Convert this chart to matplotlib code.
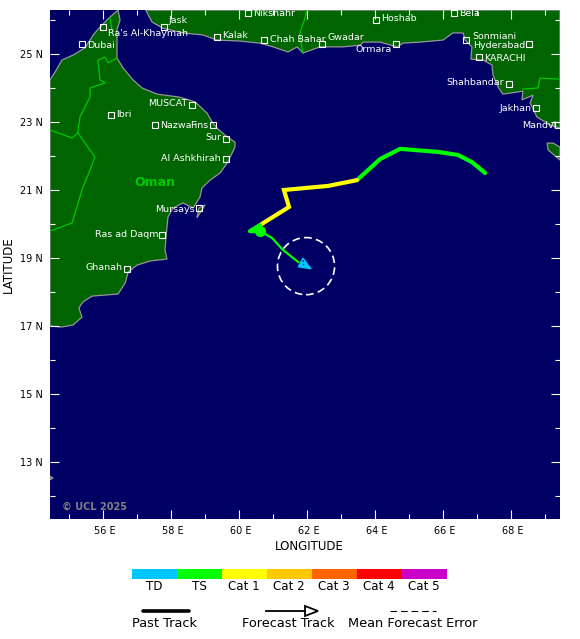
import matplotlib
matplotlib.use("Agg")
import matplotlib.pyplot as plt
from matplotlib.patches import Polygon, Circle
from matplotlib.ticker import MultipleLocator
from matplotlib.transforms import ScaledTranslation

# ---- data ----
arabia_lon = [54.44,54.59,54.79,55.12,55.47,55.71,55.91,56.21,56.44,56.50,56.41,56.41,56.59,56.88,57.15,57.59,58.26,58.71,59.06,59.21,59.35,59.65,59.88,59.88,59.65,59.44,59.15,58.91,58.85,58.65,58.35,58.06,57.91,57.88,57.82,57.88,57.38,57.00,56.74,56.65,56.44,55.68,55.41,55.29,55.38,55.12,54.79,54.44]
arabia_lat = [24.24,24.47,24.82,24.97,25.18,25.56,25.79,26.09,26.29,26.00,25.71,24.88,24.59,24.24,24.00,23.82,23.73,23.59,23.26,23.00,22.82,22.56,22.41,22.26,21.79,21.50,21.29,21.06,20.79,20.47,20.62,20.47,20.21,19.91,19.24,18.97,18.91,18.79,18.59,18.26,17.94,17.88,17.71,17.53,17.26,17.03,16.97,17.00]
north_lon = [57.26,57.44,57.76,58.35,58.94,59.35,60.03,60.62,61.00,61.44,61.71,61.88,62.38,63.06,63.56,63.65,64.15,64.65,64.82,65.32,66.00,66.29,66.59,66.65,66.85,66.82,67.18,67.44,67.47,67.62,67.76,68.18,68.35,68.32,68.65,68.56,68.76,69.15,69.44,69.44]
north_lat = [26.29,25.94,25.76,25.62,25.56,25.41,25.38,25.32,25.21,25.06,25.21,25.03,25.21,25.21,25.26,25.35,25.35,25.21,25.32,25.35,25.41,25.62,25.62,25.41,25.21,24.85,24.82,24.68,24.38,24.03,23.82,23.88,23.91,23.65,23.79,23.56,23.15,22.91,22.82,26.29]
kathiawar_lon = [69.44,69.09,69.06,69.24,69.44]
kathiawar_lat = [21.88,22.18,22.38,22.38,22.26]
masirah_lon = [58.76,59.00,58.82]
masirah_lat = [20.18,20.56,20.47]
speck_lon = [54.44,54.53,54.44]
speck_lat = [12.58,12.53,12.48]

border_a_lon = [54.44,55.09,55.26,55.47,55.76,55.62,55.41,55.09,54.44]
border_a_lat = [22.76,22.53,22.68,22.38,21.97,21.59,21.09,20.03,19.79]
border_b_lon = [55.26,55.32,55.62,55.62,56.06,55.91,55.85,56.06,56.15,56.41]
border_b_lat = [22.68,23.15,23.74,24.00,24.15,24.24,24.82,24.91,24.74,24.88]
border_c_lon = [56.21,56.26]
border_c_lat = [26.06,25.71]
border_d_lon = [62.00,61.94,61.79,61.82,61.88]
border_d_lat = [26.29,26.06,25.62,25.35,25.03]
border_e_lon = [68.35,68.79,68.85,69.44]
border_e_lat = [23.97,24.00,24.29,24.26]

city_names = ["Jask","Ra's Al-Khaymah","Dubai","Nikshahr","Kalak","Chah Bahar","Gwadar","Ormara","Hoshab","Bela","Sonmiani","Hyderabad","KARACHI","Shahbandar","Jakhan","Mandvi","MUSCAT","Ibri","Nazwa","Fins","Sur","Al Ashkhirah","Mursays","Ras ad Daqm","Ghanah"]
city_lon = [57.79,56.00,55.38,60.26,59.35,60.74,62.44,64.62,64.03,66.32,66.68,68.53,67.06,67.94,68.74,69.38,58.62,56.24,57.53,59.24,59.62,59.62,58.82,57.74,56.71]
city_lat = [25.79,25.79,25.29,26.21,25.50,25.41,25.29,25.29,26.00,26.21,25.41,25.29,24.91,24.12,23.41,22.91,23.50,23.21,22.91,22.91,22.50,21.91,20.47,19.68,18.68]
city_dx = [5,5,5,5,5,6,6,-4,5,5,6,-4,5,-5,-5,-2,-5,5,5,-5,-5,-5,-4,-4,-5]
city_dy = [7,-6,-1,-1,1,1,7,-5,1,-1,4,-1,-1,1,0,0,1,0,0,0,1,1,-1,0,1]

ts1_lon = [67.24,66.85,66.44,65.85,64.74,64.15,63.47]
ts1_lat = [21.50,21.82,22.03,22.12,22.21,21.91,21.29]
cat1_lon = [63.47,62.62,61.32,61.47,60.62]
cat1_lat = [21.29,21.12,21.00,20.50,19.97]
ts2_lon = [60.62,60.32,60.62]
ts2_lat = [19.97,19.79,19.79]
fc_lon = [60.62,60.97,61.29,61.74]
fc_lat = [19.79,19.59,19.24,18.88]
head_lon = [61.88,61.74,62.12]
head_lat = [19.00,18.74,18.68]
err_lon, err_lat, err_radius = 61.97, 18.76, 0.84

cat_names = ["TD","TS","Cat 1","Cat 2","Cat 3","Cat 4","Cat 5"]
cat_colors = ["#00c8ff","#00ff00","#ffff00","#ffc800","#ff6400","#ff0000","#c800c8"]

W, H = 580, 639
plt.rcParams['font.family'] = 'DejaVu Sans'
fig = plt.figure(figsize=(W/100, H/100), dpi=100, facecolor='white')
ax = fig.add_axes([50/W, (H-519)/H, 510/W, 509/H])
ax.set_facecolor('#000064')
ax.set_xlim(54.44, 69.44)
ax.set_ylim(11.323, 26.294)

LAND, COAST, BORDER = '#006400', '#969696', '#00c800'
def land(lons, lats):
    ax.add_patch(Polygon(list(zip(lons, lats)), closed=True, facecolor=LAND,
                         edgecolor=COAST, linewidth=0.9, zorder=1))
for lo, la in [(arabia_lon, arabia_lat), (north_lon, north_lat),
               (kathiawar_lon, kathiawar_lat), (masirah_lon, masirah_lat),
               (speck_lon, speck_lat)]:
    land(lo, la)
for lo, la in [(border_a_lon, border_a_lat), (border_b_lon, border_b_lat),
               (border_c_lon, border_c_lat), (border_d_lon, border_d_lat),
               (border_e_lon, border_e_lat)]:
    ax.plot(lo, la, color=BORDER, lw=0.9, zorder=2)

# cities
ax.plot(city_lon, city_lat, ls='none', marker='s', ms=4.6, mfc='none', mec='white',
        mew=0.8, zorder=5)
for n, lo, la, dx, dy in zip(city_names, city_lon, city_lat, city_dx, city_dy):
    ax.annotate(n, (lo, la), xytext=(dx, dy), textcoords='offset pixels',
                color='white', fontsize=6.8, va='center',
                ha='left' if dx > 0 else 'right', zorder=6, clip_on=True)
ax.text(57.53, 21.21, "Oman", color='#00c800', fontsize=9, fontweight='bold',
        ha='center', va='center', zorder=6)
ax.text(54.80, 11.67, "\u00a9 UCL 2025", color='#808080', fontsize=7, fontweight='bold',
        ha='left', va='center', zorder=6)

# track
ax.plot(ts1_lon, ts1_lat, color='#00ff00', lw=3.0, solid_capstyle='round', solid_joinstyle='round', zorder=7)
ax.plot(cat1_lon, cat1_lat, color='#ffff00', lw=3.0, solid_capstyle='round', solid_joinstyle='miter', zorder=7)
ax.plot(ts2_lon, ts2_lat, color='#00ff00', lw=3.0, solid_capstyle='round', zorder=8)
ax.plot([ts2_lon[-1]], [ts2_lat[-1]], marker='o', ms=7, color='#00ff00', zorder=8)
ax.fill(ts2_lon, ts2_lat, color='#00ff00', zorder=8)
ax.plot(fc_lon, fc_lat, color='#00ff00', lw=1.6, zorder=7)
ax.add_patch(Polygon(list(zip(head_lon, head_lat)), closed=True, facecolor='#00c8ff',
                     edgecolor='#00c8ff', lw=0.8, zorder=8))
ax.plot([head_lon[0], head_lon[0] + 0.03], [head_lat[0] - 0.06, head_lat[0] - 0.25], color='#000064',
        lw=0.7, ls=(0, (2, 2)), zorder=9)
ax.add_patch(Circle((err_lon, err_lat), err_radius, fill=False, edgecolor='white',
                    lw=1.2, ls=(0, (4.6, 2.6)), zorder=7))

# ticks
ax.set_xticks([56, 58, 60, 62, 64, 66, 68])
ax.set_xticklabels([f"{v} E" for v in [56, 58, 60, 62, 64, 66, 68]], fontsize=7)
ax.set_yticks([13, 15, 17, 19, 21, 23, 25])
ax.set_yticklabels([f"{v} N" for v in [13, 15, 17, 19, 21, 23, 25]], fontsize=7)
ax.xaxis.set_minor_locator(MultipleLocator(1))
ax.yaxis.set_minor_locator(MultipleLocator(1))
ax.tick_params(which='major', direction='in', length=6.5, width=0.8, color='white',
               top=True, right=True, pad=5, zorder=10)
ax.tick_params(which='minor', direction='in', length=3.6, width=0.8, color='white',
               top=True, right=True, zorder=10)
shift = ScaledTranslation(2/100, 0, fig.dpi_scale_trans)
for lbl in ax.get_xticklabels():
    lbl.set_transform(lbl.get_transform() + shift)
for s in ax.spines.values():
    s.set_visible(False)

fig.text(309/W, 1-546/H, "LONGITUDE", fontsize=8.5, ha='center', va='center')
fig.text(8/W, 1-264.5/H, "LATITUDE", fontsize=8.5, rotation=90, ha='center', va='center')

# colour bar
cax = fig.add_axes([132/W, 1-579/H, 315/W, 10/H])
cax.set_xlim(0, len(cat_names)); cax.set_ylim(0, 1)
cax.bar(range(len(cat_names)), [1]*len(cat_names), width=1, align='edge', color=cat_colors)
cax.axis('off')
for i, n in enumerate(cat_names):
    fig.text((132 + 45*i + 22.5 - 0.5)/W, 1-587/H, n, fontsize=8.6, ha='center', va='center')

# key
key = fig.add_axes([0, 0, 1, 1], facecolor='none')
key.set_xlim(0, W); key.set_ylim(H, 0); key.axis('off')
key.plot([143, 189], [611, 611], color='black', lw=2.6, solid_capstyle='round')
key.plot([266, 305], [611, 611], color='black', lw=1.3)
key.add_patch(Polygon([(305, 606), (318, 611), (305, 616)], closed=True, facecolor='white',
                      edgecolor='black', lw=1.3))
key.plot([390, 436], [611, 611], color='black', lw=0.8, ls=(0, (6, 3.5)))
key.text(165, 623.5, "Past Track", fontsize=9.3, ha='center', va='center')
key.text(288.5, 623.5, "Forecast Track", fontsize=9.3, ha='center', va='center')
key.text(413, 623.5, "Mean Forecast Error", fontsize=9.3, ha='center', va='center')

fig.savefig("out.png", dpi=100, facecolor='white')
